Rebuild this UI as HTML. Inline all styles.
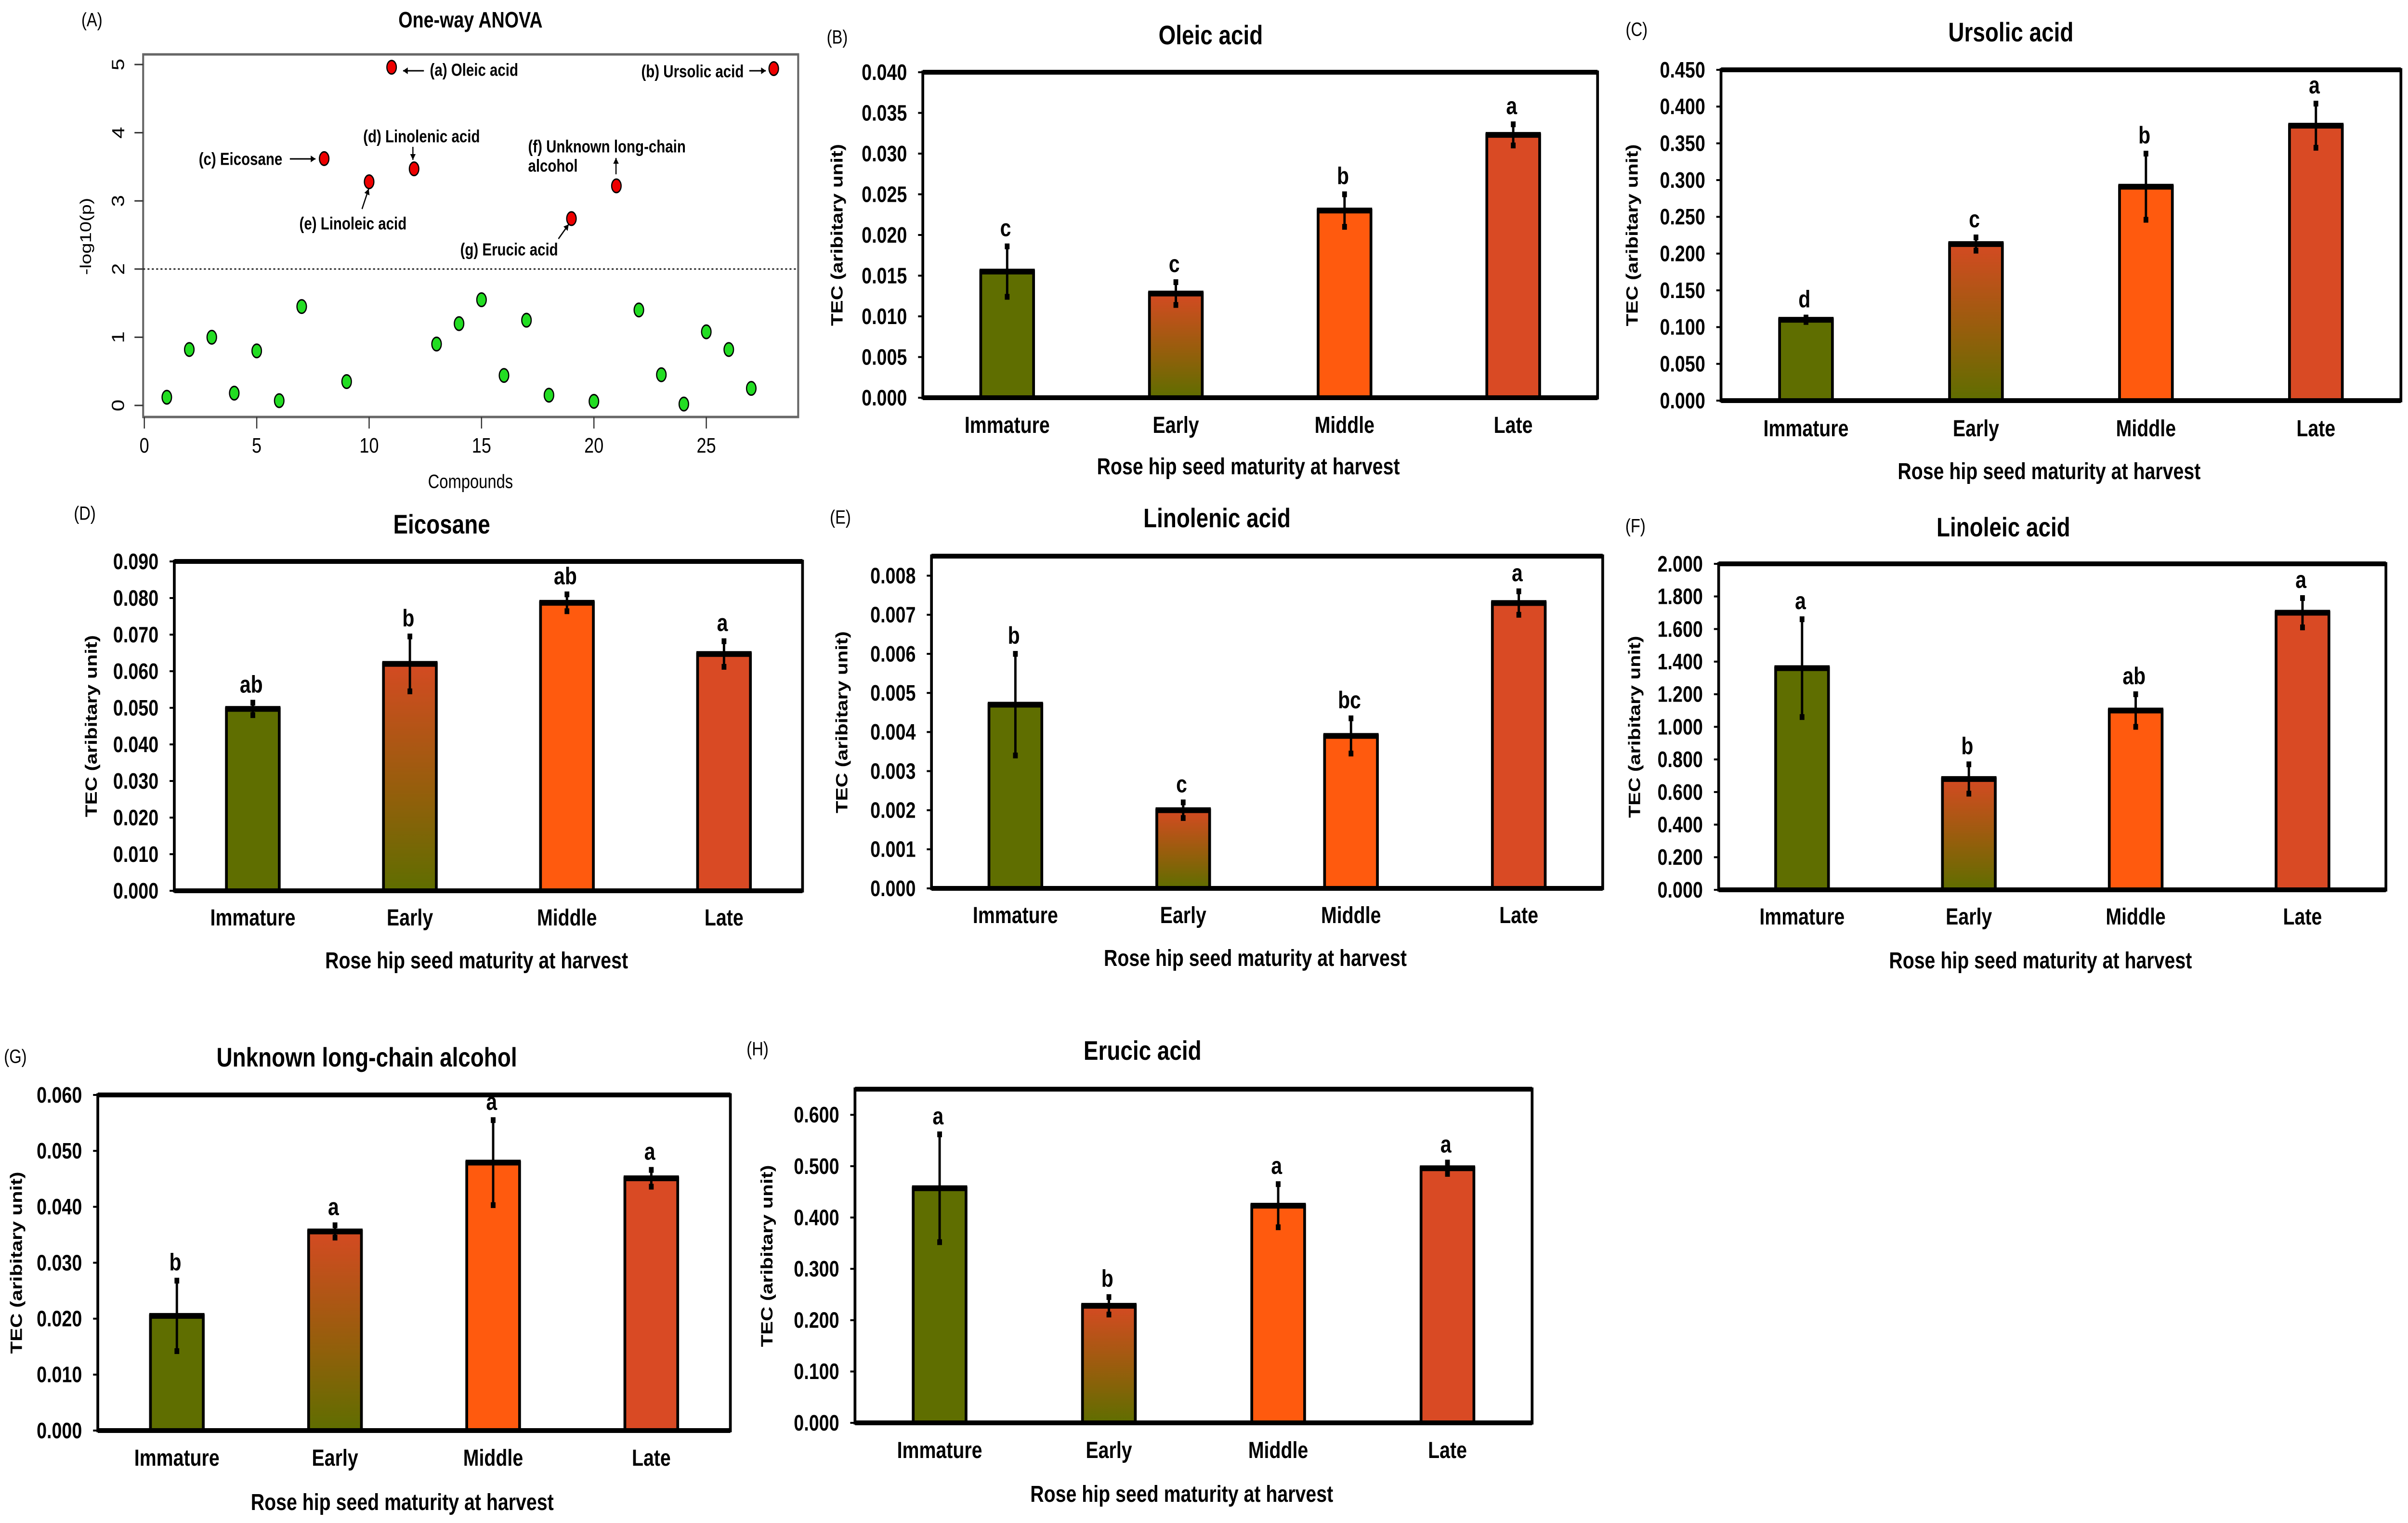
<!DOCTYPE html>
<html><head><meta charset="utf-8"><title>Rose hip seed compounds</title>
<style>
html,body{margin:0;padding:0;background:#fff;overflow:hidden;}
svg{display:block;width:100vw;height:100vh;}
text{font-family:"Liberation Sans Narrow","Liberation Sans",sans-serif;fill:#000;}
.wide{font-family:"Liberation Sans",sans-serif;}
</style></head>
<body>
<svg id="fig" viewBox="0 0 6106 3163" preserveAspectRatio="none" xmlns="http://www.w3.org/2000/svg">
<defs>
<linearGradient id="earlyGrad" x1="0" y1="0" x2="0" y2="1">
<stop offset="0" stop-color="#d44a22"/><stop offset="0.55" stop-color="#965e0c"/><stop offset="1" stop-color="#5f6e00"/>
</linearGradient>
</defs>
<g id="panelA"></g>
<g id="bars"></g>
</svg>
<script>
// ---------- Panel A data ----------
const anovaGreenX = [1,2,3,4,5,6,7,9,13,14,15,16,17,18,20,22,23,24,25,26,27];
const anovaGreenY = [0.12,0.82,1.0,0.18,0.8,0.07,1.45,0.35,0.9,1.2,1.55,0.44,1.25,0.15,0.06,1.4,0.45,0.02,1.08,0.82,0.25];
const anovaRedX = [8,10,11,12,19,21,28];
const anovaRedY = [3.62,3.28,4.96,3.47,2.74,3.22,4.94];
const anovaXTicks = [0,5,10,15,20,25];
const anovaYTicks = [0,1,2,3,4,5];
const anovaThreshold = 2;

// ---------- Bar chart data ----------
const categories = ["Immature","Early","Middle","Late"];
const oleicVals = [0.0155,0.0128,0.0230,0.0323];
const oleicErr = [0.0031,0.0014,0.0020,0.0013];
const oleicLetters = ["c","c","b","a"];
const ursolicVals = [0.110,0.213,0.291,0.374];
const ursolicErr = [0.003,0.009,0.045,0.030];
const ursolicLetters = ["d","c","b","a"];
const eicosaneVals = [0.0497,0.0620,0.0787,0.0647];
const eicosaneErr = [0.0017,0.0075,0.0023,0.0035];
const eicosaneLetters = ["ab","b","ab","a"];
const linolenicVals = [0.0047,0.0020,0.0039,0.0073];
const linolenicErr = [0.0013,0.0002,0.00045,0.0003];
const linolenicLetters = ["b","c","bc","a"];
const linoleicVals = [1.36,0.68,1.10,1.70];
const linoleicErr = [0.30,0.09,0.10,0.09];
const linoleicLetters = ["a","b","ab","a"];
const alcoholVals = [0.0205,0.0356,0.0479,0.0451];
const alcoholErr = [0.0063,0.0011,0.0076,0.0015];
const alcoholLetters = ["b","a","a","a"];
const erucicVals = [0.457,0.228,0.423,0.496];
const erucicErr = [0.105,0.017,0.042,0.011];
const erucicLetters = ["a","b","a","a"];

const NS = "http://www.w3.org/2000/svg";
function mk(tag, attrs, parent){ const e=document.createElementNS(NS,tag); for(const k in attrs) e.setAttribute(k,attrs[k]); parent.appendChild(e); return e; }
function txt(s, attrs, parent){ const e=mk("text",attrs,parent); e.textContent=s; return e; }

// ---------- Panel A ----------
(function(){
  const g=document.getElementById("panelA");
  const L=363,T=113,R=2024,B=866;
  const x=v=>366+v*57.0;
  const y=v=>842-v*141.6;
  let t=txt("(A)",{x:233,y:41,"font-size":40,"text-anchor":"middle","dominant-baseline":"central"},g);
  
  
  t=txt("One-way ANOVA",{x:1193,y:41,"font-size":46,"font-weight":"bold","text-anchor":"middle","dominant-baseline":"central"},g);
  
  
  const box=mk("rect",{x:L,y:T,width:R-L,height:B-T,fill:"none",stroke:"#666","stroke-width":5},g);
  
  
  anovaXTicks.forEach(v=>{
    const ln=mk("line",{x1:x(v),x2:x(v),y1:B,y2:B+24,stroke:"#333","stroke-width":3},g);
    
    
    const l=txt(String(v),{x:x(v),y:925,"font-size":44,"text-anchor":"middle","dominant-baseline":"central",fill:"#222"},g);
    
    
  });
  anovaYTicks.forEach(v=>{
    const ln=mk("line",{x1:L-22,x2:L,y1:y(v),y2:y(v),stroke:"#333","stroke-width":3},g);
    
    
    const l=txt(String(v),{x:300,y:y(v),"font-size":44,"text-anchor":"middle","dominant-baseline":"central",fill:"#222",transform:"rotate(-90 300 "+y(v)+")"},g);
    
    
  });
  t=txt("-log10(p)",{x:217,y:491,"font-size":40,"text-anchor":"middle","dominant-baseline":"central",fill:"#333",transform:"rotate(-90 217 491)"},g);
  
  
  t=txt("Compounds",{x:1193,y:1000,"font-size":40,"text-anchor":"middle","dominant-baseline":"central",fill:"#333"},g);
  
  
  const th=mk("line",{x1:L,x2:R,y1:y(anovaThreshold),y2:y(anovaThreshold),stroke:"#222","stroke-width":3,"stroke-dasharray":"5 6"},g);
  
  
  anovaGreenX.forEach((v,i)=>{
    const c=mk("ellipse",{cx:x(v),cy:y(anovaGreenY[i]),rx:12,ry:14,fill:"#22dd22",stroke:"#000","stroke-width":3},g);
    
    
  });
  anovaRedX.forEach((v,i)=>{
    const c=mk("ellipse",{cx:x(v),cy:y(anovaRedY[i]),rx:12,ry:14,fill:"#ee0000",stroke:"#000","stroke-width":3},g);
    
    
  });
  const ann=[["(a) Oleic acid",1090,145],["(b) Ursolic acid",1626,148],["(c) Eicosane",504,330],["(d) Linolenic acid",921,283],["(e) Linoleic acid",759,464],["(f) Unknown long-chain",1339,304],["alcohol",1339,344],["(g) Erucic acid",1167,518]];
  ann.forEach(a=>{
    const e=txt(a[0],{x:a[1],y:a[2],"font-size":36,"font-weight":"bold","text-anchor":"start","dominant-baseline":"central"},g);
    
    
  });
  const arrows=[[1075,147,1022,147],[1900,147,1942,147],[735,330,800,330],[1047,305,1047,332],[918,434,935,392],[1562,362,1562,328],[1416,496,1442,466]];
  arrows.forEach(a=>{
    const ln=mk("line",{x1:a[0],y1:a[1],x2:a[2],y2:a[3],stroke:"#000","stroke-width":3},g);
    
    
    const ang=Math.atan2(a[3]-a[1],a[2]-a[0]);
    const hl=12,hw=7;
    const p1=[a[2]-hl*Math.cos(ang)+hw*Math.sin(ang),a[3]-hl*Math.sin(ang)-hw*Math.cos(ang)];
    const p2=[a[2]-hl*Math.cos(ang)-hw*Math.sin(ang),a[3]-hl*Math.sin(ang)+hw*Math.cos(ang)];
    const hd=mk("polygon",{points:a[2]+","+a[3]+" "+p1[0]+","+p1[1]+" "+p2[0]+","+p2[1],fill:"#000"},g);
    
    
  });
})();

// ---------- Bar panels ----------
const fills=["#5f6e00","url(#earlyGrad)","#ff5a0e","#d94a24"];
function barPanel(cfg){
  const root=document.getElementById("bars");
  const g=mk("g",{},root);
  
  
  const L=cfg.box[0],T=cfg.box[1],R=cfg.box[2],B=cfg.box[3];
  const W=R-L;
  const y=v=>B-(v/cfg.ymax)*(B-T);
  const xc=i=>L+W*(0.125+0.25*i);
  const bw=134;
  let t=txt(cfg.label,{x:cfg.labelPos[0],y:cfg.labelPos[1],"font-size":40,"text-anchor":"middle","dominant-baseline":"central"},g);
  
  
  t=txt(cfg.title,{x:cfg.titlePos[0],y:cfg.titlePos[1],"font-size":56,"font-weight":"bold","text-anchor":"middle","dominant-baseline":"central"},g);
  
  
  const n=Math.round(cfg.tickMax/cfg.step);
  for(let k=0;k<=n;k++){
    const v=k*cfg.step;
    const ln=mk("line",{x1:L-12,x2:L,y1:y(v),y2:y(v),stroke:"#000","stroke-width":4},g);
    
    
    const l=txt(v.toFixed(3),{x:L-40,y:y(v),"font-size":46,"font-weight":"bold","text-anchor":"end","dominant-baseline":"central"},g);
    
    
  }
  cfg.vals.forEach((v,i)=>{
    const r=mk("rect",{x:xc(i)-bw/2,y:y(v),width:bw,height:B-y(v),fill:fills[i],stroke:"#000","stroke-width":7},g);
    
    
    const tp=mk("line",{x1:xc(i)-bw/2-3,x2:xc(i)+bw/2+3,y1:y(v),y2:y(v),stroke:"#000","stroke-width":12},g);
    
    
    const e=cfg.err[i];
    const eb=mk("line",{x1:xc(i),x2:xc(i),y1:y(v+e),y2:y(v-e),stroke:"#000","stroke-width":6},g);
    
    
    [v+e,v-e].forEach(c=>{
      const cp=mk("rect",{x:xc(i)-6,y:y(c)-6,width:12,height:12,fill:"#000"},g);
      
      
    });
    const lt=txt(cfg.letters[i],{x:xc(i)-4,y:y(v+e)-38,"font-size":50,"font-weight":"bold","text-anchor":"middle","dominant-baseline":"central"},g);
    
    
    const cl=txt(categories[i],{x:xc(i),y:cfg.catY,"font-size":48,"font-weight":"bold","text-anchor":"middle","dominant-baseline":"central"},g);
    
    
  });
  const fr=mk("rect",{x:L,y:T,width:W,height:B-T,fill:"none",stroke:"#000","stroke-width":7},g);
  
  
  const tl=mk("line",{x1:L,x2:R,y1:T,y2:T,stroke:"#000","stroke-width":10},g);
  
  
  const bl=mk("line",{x1:L,x2:R,y1:B,y2:B,stroke:"#000","stroke-width":10},g);
  
  
  t=txt("Rose hip seed maturity at harvest",{x:(L+R)/2-30,y:cfg.atY,"font-size":48,"font-weight":"bold","text-anchor":"middle","dominant-baseline":"central"},g);
  
  
  const cy=(T+B)/2;
  t=txt("TEC (aribitary unit)",{x:cfg.yTitleX,y:cy,"font-size":42,"font-weight":"bold","class":"wide","text-anchor":"middle","dominant-baseline":"central",transform:"rotate(-90 "+cfg.yTitleX+" "+cy+")"},g);
  
  
}

barPanel({name:"oleic-acid",label:"(B)",labelPos:[2123,77],title:"Oleic acid",titlePos:[3070,73],box:[2340,150,4051,826],ymax:0.040,tickMax:0.040,step:0.005,vals:oleicVals,err:oleicErr,letters:oleicLetters,catY:883,atY:969,yTitleX:2123});
barPanel({name:"ursolic-acid",label:"(C)",labelPos:[4150,61],title:"Ursolic acid",titlePos:[5099,67],box:[4364,145,6088,832],ymax:0.45,tickMax:0.45,step:0.05,vals:ursolicVals,err:ursolicErr,letters:ursolicLetters,catY:890,atY:979,yTitleX:4139});
barPanel({name:"eicosane",label:"(D)",labelPos:[215,1066],title:"Eicosane",titlePos:[1120,1089],box:[442,1166,2035,1850],ymax:0.09,tickMax:0.09,step:0.01,vals:eicosaneVals,err:eicosaneErr,letters:eicosaneLetters,catY:1906,atY:1995,yTitleX:232});
barPanel({name:"linolenic-acid",label:"(E)",labelPos:[2131,1074],title:"Linolenic acid",titlePos:[3086,1076],box:[2362,1155,4064,1845],ymax:0.0085,tickMax:0.008,step:0.001,vals:linolenicVals,err:linolenicErr,letters:linolenicLetters,catY:1901,atY:1990,yTitleX:2135});
barPanel({name:"linoleic-acid",label:"(F)",labelPos:[4147,1092],title:"Linoleic acid",titlePos:[5080,1095],box:[4358,1171,6050,1848],ymax:2.0,tickMax:2.0,step:0.2,vals:linoleicVals,err:linoleicErr,letters:linoleicLetters,catY:1904,atY:1995,yTitleX:4145});
barPanel({name:"unknown-alcohol",label:"(G)",labelPos:[39,2194],title:"Unknown long-chain alcohol",titlePos:[930,2196],box:[248,2274,1852,2971],ymax:0.06,tickMax:0.06,step:0.01,vals:alcoholVals,err:alcoholErr,letters:alcoholLetters,catY:3028,atY:3120,yTitleX:42});
barPanel({name:"erucic-acid",label:"(H)",labelPos:[1921,2178],title:"Erucic acid",titlePos:[2897,2182],box:[2168,2262,3885,2955],ymax:0.65,tickMax:0.6,step:0.1,vals:erucicVals,err:erucicErr,letters:erucicLetters,catY:3012,atY:3103,yTitleX:1945});
</script>
</body></html>
